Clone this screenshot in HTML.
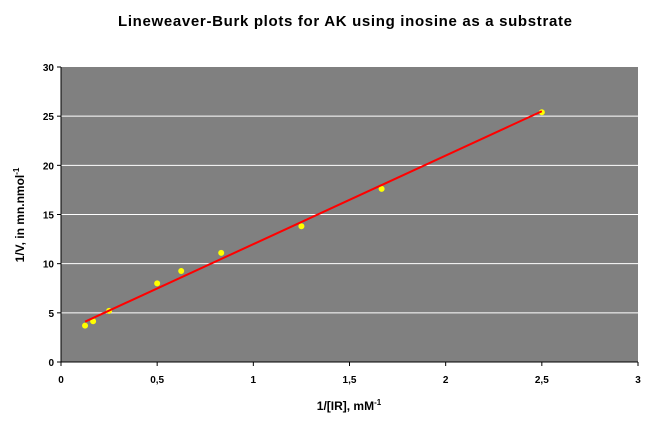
<!DOCTYPE html>
<html><head><meta charset="utf-8"><style>
body{margin:0;background:#fff;width:663px;height:428px;overflow:hidden}
text{font-family:"Liberation Sans",Arial,sans-serif;font-weight:bold}
</style></head><body>
<svg id="chart" width="663" height="428">
<text x="118" y="26" font-size="15" textLength="454" lengthAdjust="spacing">Lineweaver-Burk plots for AK using inosine as a substrate</text>
<rect x="61" y="67" width="577" height="295" fill="#808080"/>
<g id="grid"></g><g id="axes"></g><g id="marks"></g>
<text x="349" y="410" font-size="12" text-anchor="middle">1/[IR], mM<tspan dy="-5" font-size="8">-1</tspan></text>
<text transform="translate(24,215) rotate(-90)" font-size="12" text-anchor="middle">1/V, in mn.nmol<tspan dy="-5" font-size="8">-1</tspan></text>
</svg>
<script>
const xTicks=[0,0.5,1,1.5,2,2.5,3];
const xTickLabels=["0","0,5","1","1,5","2","2,5","3"];
const yTicks=[0,5,10,15,20,25,30];
const xValues=[0.125,0.167,0.25,0.5,0.625,0.833,1.25,1.667,2.5];
const yValues=[3.7,4.15,5.2,8.0,9.25,11.1,13.8,17.6,25.4];
const fitX=[0.125,2.5];
const fitY=[4.1,25.5];
const X=v=>61+v/3*577, Y=v=>362-v/30*295;
const NS="http://www.w3.org/2000/svg";
function mk(p,t,a){const e=document.createElementNS(NS,t);for(const k in a)e.setAttribute(k,a[k]);document.getElementById(p).appendChild(e);return e;}
yTicks.forEach(v=>{
 if(v>0&&v<30){const l=mk('grid','line',{x1:61,x2:638,y1:Y(v),y2:Y(v),stroke:'#fff','stroke-width':1});
 
 }
 const t=mk('axes','text',{x:54,y:Y(v)+4,'font-size':10,'text-anchor':'end'});t.textContent=v;
 
 
 mk('axes','line',{x1:57,x2:61,y1:Y(v),y2:Y(v),stroke:'#000'});
});
xTicks.forEach((v,i)=>{
 const t=mk('axes','text',{x:X(v),y:383,'font-size':10,'text-anchor':'middle'});t.textContent=xTickLabels[i];
 
 
 mk('axes','line',{x1:X(v),x2:X(v),y1:362,y2:366,stroke:'#000'});
});
mk('axes','line',{x1:61,x2:61,y1:67,y2:362,stroke:'#000'});
mk('axes','line',{x1:61,x2:638,y1:362,y2:362,stroke:'#000'});
xValues.forEach((v,i)=>{
 const c=mk('marks','circle',{cx:X(v),cy:Y(yValues[i]),r:3,fill:'#ffff00'});
 
 
});
const fl=mk('marks','line',{x1:X(fitX[0]),y1:Y(fitY[0]),x2:X(fitX[1]),y2:Y(fitY[1]),stroke:'#ff0000','stroke-width':2});


</script>
</body></html>
